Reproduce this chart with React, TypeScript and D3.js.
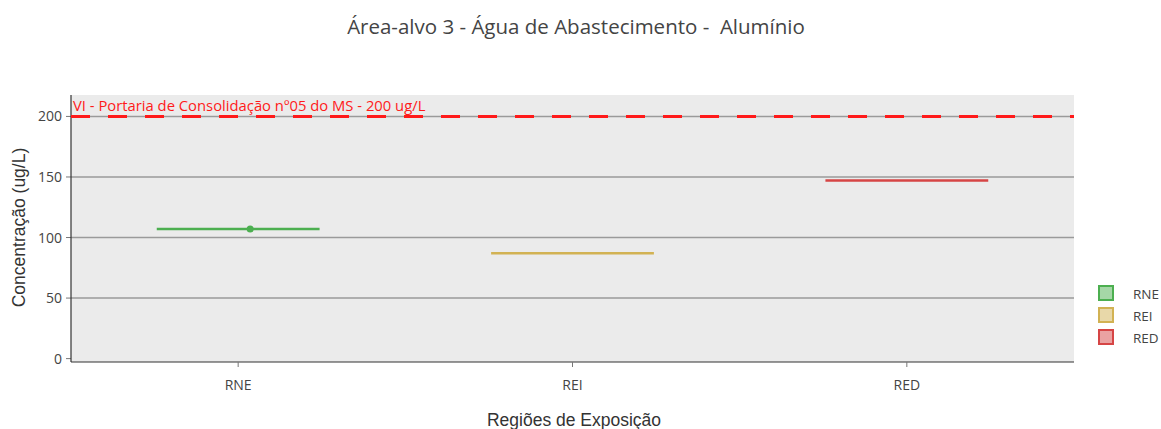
import React from "react";
import * as d3 from "d3";

const categories = ["RNE", "REI", "RED"];
const values = [107, 87, 147];
const colors = ["#4caf50", "#d2b253", "#d64545"];
const yTicks = [0, 50, 100, 150, 200];
const refValue = 200;
const refLabel = "VI - Portaria de Consolidação nº05 do MS - 200 ug/L";
const title = "Área-alvo 3 - Água de Abastecimento -  Alumínio";
const xTitle = "Regiões de Exposição";
const yTitle = "Concentração (ug/L)";

const W = 1161, H = 429;
const L = 71, R = 1074, T = 95, B = 362;

export default function App() {
  const x = d3.scaleBand<string>().domain(categories).range([L, R]).padding(0);
  const y = d3.scaleLinear().domain([-2.8, 217.7]).range([B, T]);
  const bw = x.bandwidth() * 0.487;
  const font = "'Open Sans', sans-serif";
  const sans = "'Liberation Sans', Arial, sans-serif";
  return (
    <svg width={W} height={H} style={{ position: "absolute", left: 0, top: 0 }}>
      <rect x={0} y={0} width={W} height={H} fill="#fff" />
      <text x={576} y={34} textAnchor="middle" fontFamily={font} fontSize={20.5} fill="#444" style={{ whiteSpace: "pre" }}>{title}</text>
      <rect x={L} y={T} width={R - L} height={B - T} fill="#ebebeb" />
      {yTicks.map((t) => (
        <g key={t}>
          {t > 0 && <line x1={L} x2={R} y1={y(t)} y2={y(t)} stroke="#9a9a9a" strokeWidth={1.5} />}
          <line x1={L - 5} x2={L} y1={y(t)} y2={y(t)} stroke="#777" strokeWidth={1} />
          <text x={L - 9} y={y(t) + 5} textAnchor="end" fontFamily={font} fontSize={14} fill="#444">{t}</text>
        </g>
      ))}
      <line x1={L} x2={L} y1={T} y2={B} stroke="#333" strokeWidth={1.2} />
      <line x1={L} x2={R} y1={B} y2={B} stroke="#333" strokeWidth={1.2} />
      {categories.map((c) => {
        const cx = (x(c) as number) + x.bandwidth() / 2;
        return (
          <g key={c}>
            <line x1={cx} x2={cx} y1={B} y2={B + 5} stroke="#777" strokeWidth={1} />
            <text x={cx} y={B + 28} textAnchor="middle" fontFamily={font} fontSize={14} fill="#444">{c}</text>
          </g>
        );
      })}
      <line x1={L} x2={R} y1={y(refValue)} y2={y(refValue)} stroke="#ff1a1a" strokeWidth={3} strokeDasharray="19,18" />
      <text x={L + 2} y={y(refValue) - 5} fontFamily={font} fontSize={14.8} fill="#ff1a1a">{refLabel}</text>
      {categories.map((c, i) => {
        const cx = (x(c) as number) + x.bandwidth() / 2;
        return (
          <g key={c}>
            <line x1={cx - bw / 2} x2={cx + bw / 2} y1={y(values[i])} y2={y(values[i])} stroke={colors[i]} strokeWidth={2.5} />
            {i === 0 && <circle cx={cx + 12} cy={y(values[i])} r={3.5} fill={colors[i]} />}
          </g>
        );
      })}
      <text transform={`translate(25,${(T + B) / 2 - 1}) rotate(-90)`} textAnchor="middle" fontFamily={sans} fontSize={17.5} fill="#333">{yTitle}</text>
      <text x={574} y={426} textAnchor="middle" fontFamily={sans} fontSize={17.5} fill="#333">{xTitle}</text>
      {categories.map((c, i) => (
        <g key={c} transform={`translate(1099,${286 + i * 22})`}>
          <rect x={0} y={0} width={14} height={14} fill={colors[i]} fillOpacity={0.5} stroke={colors[i]} strokeWidth={2} />
          <text x={34} y={12.5} fontFamily={font} fontSize={13.5} fill="#444">{c}</text>
        </g>
      ))}
    </svg>
  );
}
